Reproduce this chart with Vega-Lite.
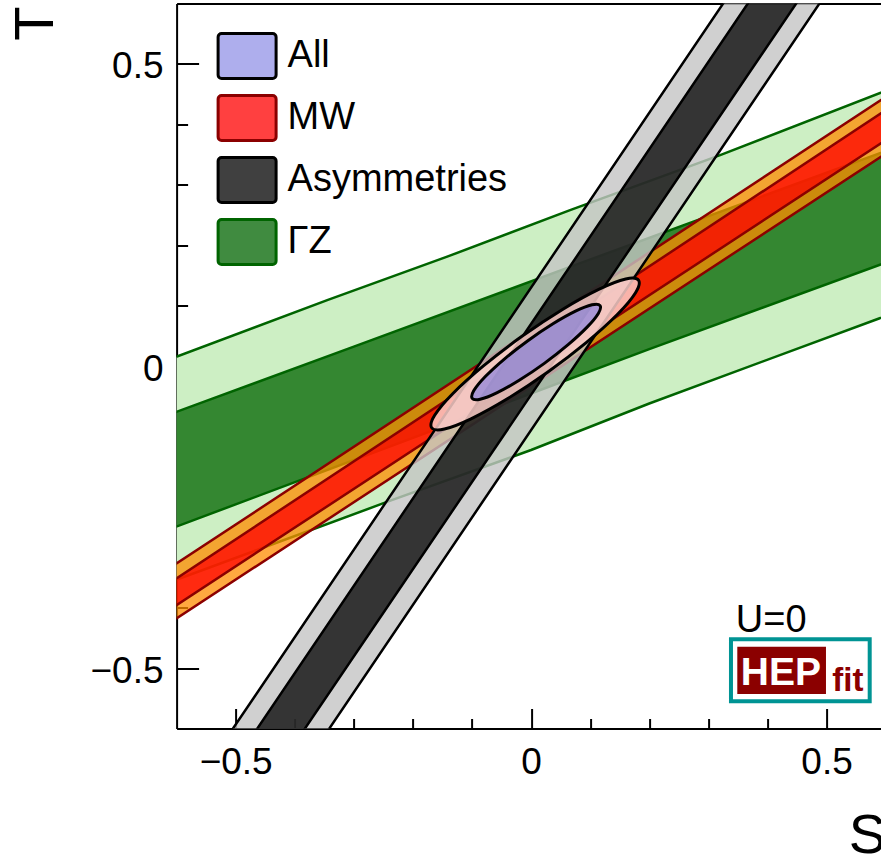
{
  "$schema": "https://vega.github.io/schema/vega-lite/v6.json",
  "width": 709,
  "height": 725,
  "autosize": {"type": "none"},
  "padding": {"left": 176.6, "top": 3.5, "right": 0, "bottom": 131.5},
  "background": "white",
  "config": {
    "view": {"stroke": null},
    "font": "Liberation Sans",
    "axis": {"grid": false, "zindex": 1, "domainColor": "black", "tickColor": "black", "labelColor": "black", "titleColor": "black", "labelFont": "Liberation Sans", "titleFont": "Liberation Sans", "domainWidth": 2, "tickWidth": 2}
  },
  "datasets": {
    "bands": [
      {"region": "G1", "idx": 0, "S": -0.62, "T": 0.008},
      {"region": "G1", "idx": 1, "S": -0.345, "T": 0.109},
      {"region": "G1", "idx": 2, "S": -0.142, "T": 0.181},
      {"region": "G1", "idx": 3, "S": 0.066, "T": 0.258},
      {"region": "G1", "idx": 4, "S": 0.32, "T": 0.349},
      {"region": "G1", "idx": 5, "S": 0.62, "T": 0.463},
      {"region": "G1", "idx": 6, "S": 0.62, "T": 0.09},
      {"region": "G1", "idx": 7, "S": 0.59, "T": 0.079},
      {"region": "G1", "idx": 8, "S": 0.2, "T": -0.062},
      {"region": "G1", "idx": 9, "S": 0.0, "T": -0.139},
      {"region": "G1", "idx": 10, "S": -0.244, "T": -0.225},
      {"region": "G1", "idx": 11, "S": -0.62, "T": -0.361},
      {"region": "G2", "idx": 0, "S": -0.62, "T": -0.083},
      {"region": "G2", "idx": 1, "S": -0.3, "T": 0.032},
      {"region": "G2", "idx": 2, "S": 0.066, "T": 0.164},
      {"region": "G2", "idx": 3, "S": 0.3, "T": 0.248},
      {"region": "G2", "idx": 4, "S": 0.62, "T": 0.363},
      {"region": "G2", "idx": 5, "S": 0.62, "T": 0.178},
      {"region": "G2", "idx": 6, "S": 0.2, "T": 0.028},
      {"region": "G2", "idx": 7, "S": -0.2, "T": -0.119},
      {"region": "G2", "idx": 8, "S": -0.62, "T": -0.273},
      {"region": "M1", "idx": 0, "S": -0.62, "T": -0.3396},
      {"region": "M1", "idx": 1, "S": 0.62, "T": 0.4581},
      {"region": "M1", "idx": 2, "S": 0.62, "T": 0.3641},
      {"region": "M1", "idx": 3, "S": -0.62, "T": -0.4305},
      {"region": "M2", "idx": 0, "S": -0.62, "T": -0.3644},
      {"region": "M2", "idx": 1, "S": 0.62, "T": 0.4361},
      {"region": "M2", "idx": 2, "S": 0.62, "T": 0.3863},
      {"region": "M2", "idx": 3, "S": -0.62, "T": -0.4085},
      {"region": "S1", "idx": 0, "S": -0.5184, "T": -0.62},
      {"region": "S1", "idx": 1, "S": 0.3389, "T": 0.62},
      {"region": "S1", "idx": 2, "S": 0.5019, "T": 0.62},
      {"region": "S1", "idx": 3, "S": -0.3553, "T": -0.62},
      {"region": "S2", "idx": 0, "S": -0.4772, "T": -0.62},
      {"region": "S2", "idx": 1, "S": 0.3807, "T": 0.62},
      {"region": "S2", "idx": 2, "S": 0.4626, "T": 0.62},
      {"region": "S2", "idx": 3, "S": -0.3966, "T": -0.62}
    ],
    "ellipses": [
      {"region": "X1", "idx": 0, "S": 0.1818, "T": 0.142},
      {"region": "X1", "idx": 1, "S": 0.1768, "T": 0.1213},
      {"region": "X1", "idx": 2, "S": 0.1459, "T": 0.0852},
      {"region": "X1", "idx": 3, "S": 0.0938, "T": 0.0392},
      {"region": "X1", "idx": 4, "S": 0.0284, "T": -0.0098},
      {"region": "X1", "idx": 5, "S": -0.0402, "T": -0.0543},
      {"region": "X1", "idx": 6, "S": -0.1017, "T": -0.0874},
      {"region": "X1", "idx": 7, "S": -0.1467, "T": -0.1043},
      {"region": "X1", "idx": 8, "S": -0.1683, "T": -0.1022},
      {"region": "X1", "idx": 9, "S": -0.1632, "T": -0.0816},
      {"region": "X1", "idx": 10, "S": -0.1323, "T": -0.0455},
      {"region": "X1", "idx": 11, "S": -0.0802, "T": 0.0005},
      {"region": "X1", "idx": 12, "S": -0.0149, "T": 0.0495},
      {"region": "X1", "idx": 13, "S": 0.0538, "T": 0.094},
      {"region": "X1", "idx": 14, "S": 0.1153, "T": 0.1272},
      {"region": "X1", "idx": 15, "S": 0.1602, "T": 0.144},
      {"region": "X2", "idx": 0, "S": 0.1167, "T": 0.1001},
      {"region": "X2", "idx": 1, "S": 0.1138, "T": 0.087},
      {"region": "X2", "idx": 2, "S": 0.0948, "T": 0.0643},
      {"region": "X2", "idx": 3, "S": 0.0627, "T": 0.0353},
      {"region": "X2", "idx": 4, "S": 0.0224, "T": 0.0044},
      {"region": "X2", "idx": 5, "S": -0.0201, "T": -0.0236},
      {"region": "X2", "idx": 6, "S": -0.0582, "T": -0.0445},
      {"region": "X2", "idx": 7, "S": -0.0862, "T": -0.0551},
      {"region": "X2", "idx": 8, "S": -0.0997, "T": -0.0537},
      {"region": "X2", "idx": 9, "S": -0.0969, "T": -0.0407},
      {"region": "X2", "idx": 10, "S": -0.0779, "T": -0.0179},
      {"region": "X2", "idx": 11, "S": -0.0458, "T": 0.0111},
      {"region": "X2", "idx": 12, "S": -0.0055, "T": 0.0419},
      {"region": "X2", "idx": 13, "S": 0.037, "T": 0.0699},
      {"region": "X2", "idx": 14, "S": 0.0751, "T": 0.0908},
      {"region": "X2", "idx": 15, "S": 0.1031, "T": 0.1014}
    ],
    "logo": [
      {"part": "frame", "s1": 0.3383, "s2": 0.5731, "t1": -0.4524, "t2": -0.555},
      {"part": "box", "s1": 0.349, "s2": 0.4991, "t1": -0.4646, "t2": -0.5429}
    ],
    "notes": [
      {"label": "U=0", "S": 0.4064, "T": -0.4398},
      {"label": "HEP", "S": 0.4228, "T": -0.528},
      {"label": "fit", "S": 0.5362, "T": -0.5374}
    ]
  },
  "resolve": {"axis": {"x": "independent", "y": "independent"}},
  "layer": [
    {
      "data": {"name": "bands"},
      "mark": {"type": "line", "interpolate": "linear-closed", "clip": true, "strokeWidth": 2.5, "strokeJoin": "round"},
      "encoding": {
        "x": {"field": "S", "type": "quantitative", "scale": {"domain": [-0.6, 0.6], "nice": false, "zero": false},
          "axis": {"orient": "bottom", "values": [-0.5, 0, 0.5], "format": ".1~f", "tickSize": -20, "labelFontSize": 37, "labelPadding": 35.7, "labelFlush": false, "labelOverlap": false, "title": "S", "titleFontSize": 56, "titleFontWeight": "normal", "titleAngle": 0, "titleAlign": "right", "titleBaseline": "alphabetic", "titleX": 709, "titleY": 124.3}},
        "y": {"field": "T", "type": "quantitative", "scale": {"domain": [-0.6, 0.6], "nice": false, "zero": false},
          "axis": {"orient": "left", "values": [-0.5, 0, 0.5], "format": ".1~f", "tickSize": -22, "labelFontSize": 37, "labelPadding": 35.6, "labelOffset": 3, "labelFlush": false, "labelOverlap": false, "title": "T", "titleFontSize": 56, "titleFontWeight": "normal", "titleAngle": 270, "titleAlign": "right", "titleBaseline": "alphabetic", "titleX": -123.6, "titleY": 2.5}},
        "order": {"field": "idx", "type": "quantitative"},
        "fill": {"field": "region", "type": "nominal",
          "scale": {"domain": ["G1", "G2", "M1", "M2", "S1", "S2", "X1", "X2"], "range": ["#cdefc4", "rgba(0,100,0,0.75)", "rgba(255,140,0,0.75)", "rgba(255,0,0,0.75)", "rgba(196,196,196,0.8)", "rgba(0,0,0,0.75)", "rgba(250,205,200,0.85)", "rgba(120,120,225,0.6)"]},
          "legend": {"values": ["X2", "M2", "S2", "G2"], "labelExpr": "datum.value === 'X2' ? 'All' : datum.value === 'M2' ? 'MW' : datum.value === 'S2' ? 'Asymmetries' : 'ΓZ'", "orient": "none", "legendX": 40, "legendY": 22, "title": null, "symbolType": "M-0.88,-0.776H0.88A0.12,0.12 0 0 1 1,-0.656V0.656A0.12,0.12 0 0 1 0.88,0.776H-0.88A0.12,0.12 0 0 1 -1,0.656V-0.656A0.12,0.12 0 0 1 -0.88,-0.776Z", "symbolSize": 3364, "symbolStrokeWidth": 3, "labelFont": "Liberation Sans", "labelFontSize": 38, "labelColor": "black", "labelOffset": 10, "labelLimit": 400, "rowPadding": 2}},
        "stroke": {"field": "region", "type": "nominal",
          "scale": {"domain": ["G1", "G2", "M1", "M2", "S1", "S2", "X1", "X2"], "range": ["#006400", "#006400", "#8b0000", "#8b0000", "black", "black", "black", "black"]},
          "legend": {"values": ["X2", "M2", "S2", "G2"], "labelExpr": "datum.value === 'X2' ? 'All' : datum.value === 'M2' ? 'MW' : datum.value === 'S2' ? 'Asymmetries' : 'ΓZ'", "orient": "none", "legendX": 40, "legendY": 22, "title": null, "symbolType": "M-0.88,-0.776H0.88A0.12,0.12 0 0 1 1,-0.656V0.656A0.12,0.12 0 0 1 0.88,0.776H-0.88A0.12,0.12 0 0 1 -1,0.656V-0.656A0.12,0.12 0 0 1 -0.88,-0.776Z", "symbolSize": 3364, "symbolStrokeWidth": 3, "labelFont": "Liberation Sans", "labelFontSize": 38, "labelColor": "black", "labelOffset": 10, "labelLimit": 400, "rowPadding": 2}}
      }
    },
    {
      "data": {"name": "ellipses"},
      "transform": [{"filter": "datum.region === 'X1'"}],
      "mark": {"type": "line", "interpolate": "cardinal-closed", "clip": true, "strokeWidth": 3},
      "encoding": {
        "x": {"field": "S", "type": "quantitative", "scale": {"domain": [-0.6, 0.6], "nice": false, "zero": false},
          "axis": {"orient": "bottom", "values": [-0.4, -0.3, -0.2, -0.1, 0.1, 0.2, 0.3, 0.4], "tickSize": -10, "labels": false, "domain": false, "title": null}},
        "y": {"field": "T", "type": "quantitative", "scale": {"domain": [-0.6, 0.6], "nice": false, "zero": false},
          "axis": {"orient": "left", "values": [-0.4, -0.3, -0.2, -0.1, 0.1, 0.2, 0.3, 0.4], "tickSize": -11, "labels": false, "domain": false, "title": null}},
        "order": {"field": "idx", "type": "quantitative"},
        "fill": {"field": "region", "type": "nominal", "legend": null,
          "scale": {"domain": ["G1", "G2", "M1", "M2", "S1", "S2", "X1", "X2"], "range": ["#cdefc4", "rgba(0,100,0,0.75)", "rgba(255,140,0,0.75)", "rgba(255,0,0,0.75)", "rgba(196,196,196,0.8)", "rgba(0,0,0,0.75)", "rgba(250,205,200,0.85)", "rgba(120,120,225,0.6)"]}},
        "stroke": {"field": "region", "type": "nominal", "legend": null,
          "scale": {"domain": ["G1", "G2", "M1", "M2", "S1", "S2", "X1", "X2"], "range": ["#006400", "#006400", "#8b0000", "#8b0000", "black", "black", "black", "black"]}}
      }
    },
    {
      "data": {"name": "ellipses"},
      "transform": [{"filter": "datum.region === 'X2'"}],
      "mark": {"type": "line", "interpolate": "cardinal-closed", "clip": true, "strokeWidth": 3},
      "encoding": {
        "x": {"field": "S", "type": "quantitative", "scale": {"domain": [-0.6, 0.6], "nice": false, "zero": false},
          "axis": {"orient": "top", "ticks": false, "labels": false, "domain": true, "title": null}},
        "y": {"field": "T", "type": "quantitative", "scale": {"domain": [-0.6, 0.6], "nice": false, "zero": false},
          "axis": {"orient": "right", "ticks": false, "labels": false, "domain": true, "title": null}},
        "order": {"field": "idx", "type": "quantitative"},
        "fill": {"field": "region", "type": "nominal", "legend": null,
          "scale": {"domain": ["G1", "G2", "M1", "M2", "S1", "S2", "X1", "X2"], "range": ["#cdefc4", "rgba(0,100,0,0.75)", "rgba(255,140,0,0.75)", "rgba(255,0,0,0.75)", "rgba(196,196,196,0.8)", "rgba(0,0,0,0.75)", "rgba(250,205,200,0.85)", "rgba(120,120,225,0.6)"]}},
        "stroke": {"field": "region", "type": "nominal", "legend": null,
          "scale": {"domain": ["G1", "G2", "M1", "M2", "S1", "S2", "X1", "X2"], "range": ["#006400", "#006400", "#8b0000", "#8b0000", "black", "black", "black", "black"]}}
      }
    },
    {
      "data": {"name": "logo"},
      "transform": [{"filter": "datum.part === 'frame'"}],
      "mark": {"type": "rect", "fill": "white", "stroke": "#009494", "strokeWidth": 4},
      "encoding": {
        "x": {"field": "s1", "type": "quantitative", "axis": null},
        "x2": {"field": "s2"},
        "y": {"field": "t1", "type": "quantitative", "axis": null},
        "y2": {"field": "t2"}
      }
    },
    {
      "data": {"name": "logo"},
      "transform": [{"filter": "datum.part === 'box'"}],
      "mark": {"type": "rect", "fill": "#8b0000"},
      "encoding": {
        "x": {"field": "s1", "type": "quantitative", "axis": null},
        "x2": {"field": "s2"},
        "y": {"field": "t1", "type": "quantitative", "axis": null},
        "y2": {"field": "t2"}
      }
    },
    {
      "data": {"name": "notes"},
      "transform": [{"filter": "datum.label === 'U=0'"}],
      "mark": {"type": "text", "font": "Liberation Sans", "fontSize": 38, "color": "black", "align": "center", "baseline": "alphabetic"},
      "encoding": {
        "x": {"field": "S", "type": "quantitative", "axis": null},
        "y": {"field": "T", "type": "quantitative", "axis": null},
        "text": {"field": "label"}
      }
    },
    {
      "data": {"name": "notes"},
      "transform": [{"filter": "datum.label === 'HEP'"}],
      "mark": {"type": "text", "font": "Liberation Sans", "fontSize": 39, "fontWeight": "bold", "color": "white", "align": "center", "baseline": "alphabetic"},
      "encoding": {
        "x": {"field": "S", "type": "quantitative", "axis": null},
        "y": {"field": "T", "type": "quantitative", "axis": null},
        "text": {"field": "label"}
      }
    },
    {
      "data": {"name": "notes"},
      "transform": [{"filter": "datum.label === 'fit'"}],
      "mark": {"type": "text", "font": "Liberation Sans", "fontSize": 33, "fontWeight": "bold", "color": "#8b0000", "align": "center", "baseline": "alphabetic"},
      "encoding": {
        "x": {"field": "S", "type": "quantitative", "axis": null},
        "y": {"field": "T", "type": "quantitative", "axis": null},
        "text": {"field": "label"}
      }
    }
  ]
}
